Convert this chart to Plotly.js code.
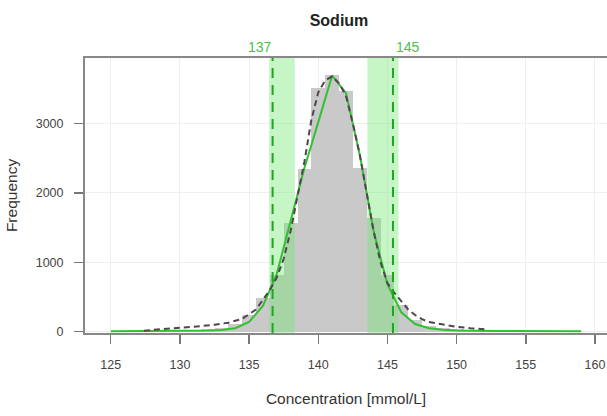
<!DOCTYPE html>
<html>
<head>
<meta charset="utf-8">
<script src="https://cdn.plot.ly/plotly-3.0.1.min.js"></script>
<style>html,body{margin:0;padding:0;background:#fff;}#chart{width:607px;height:416px;}</style>
</head>
<body>
<div id="chart"></div>
<script>
// Histogram bins (centres, width 1 mmol/L) and counts
const binCenters = [125,126,127,128,129,130,131,132,133,134,135,136,137,138,139,140,141,142,143,144,145,146,147,148,149,150,151,152,153,154,155,156,157,158,159];
const binCounts  = [2,3,5,8,12,18,25,35,55,110,240,480,810,1565,2350,3510,3700,3470,2360,1640,820,390,170,85,50,32,20,12,8,5,3,2,2,1,1];

// Fitted model curve (green, solid)
const fitX = [125,126,127,128,129,130,131,132,133,134,135,136,137,138,139,140,141,142,143,144,145,146,147,148,149,150,151,152,153,154,155,156,157,158,159];
const fitY = [8,8,8,8,9,10,12,16,25,50,140,370,830,1580,2360,3020,3690,3440,2550,1450,680,280,110,50,28,18,13,11,10,9,8,8,8,8,8];

// Density curve (dark, dashed)
const densX = [127.4,128.5,129.5,130.5,131.5,132.5,133.5,134.5,135.5,136,136.5,137,137.5,138,138.5,139,139.5,140,140.5,141,141.5,142,142.5,143,143.5,144,144.5,145,145.5,146,146.5,147,147.5,148,149,150,151,152,152.3];
const densY = [15,30,50,65,80,100,130,185,320,460,600,780,1050,1450,1950,2450,3050,3450,3620,3680,3580,3400,3000,2550,2000,1450,1000,700,560,440,320,240,180,140,100,70,50,35,30];

// Reference limits with their uncertainty bands
const limitValues = [136.7, 145.4];
const limitLabels = ['137', '145'];
const bandLow  = [136.45, 143.55];
const bandHigh = [138.3, 145.8];

const yRange = [-19, 3944];
const xRange = [123.14, 160.87];

const traces = [];
traces.push({
  type: 'bar', x: binCenters, y: binCounts, width: 1,
  marker: {color: '#c9c9c9', line: {width: 0}},
  hoverinfo: 'skip', showlegend: false
});
for (let i = 0; i < bandLow.length; i++) {
  traces.push({
    type: 'scatter', mode: 'lines',
    x: [bandLow[i], bandHigh[i], bandHigh[i], bandLow[i], bandLow[i]],
    y: [yRange[0], yRange[0], yRange[1], yRange[1], yRange[0]],
    fill: 'toself', fillcolor: 'rgba(112,230,112,0.4)',
    line: {width: 0}, hoverinfo: 'skip', showlegend: false
  });
}
traces.push({
  type: 'scatter', mode: 'lines', x: fitX, y: fitY,
  line: {color: '#33c033', width: 2}, showlegend: false
});
traces.push({
  type: 'scatter', mode: 'lines', x: densX, y: densY,
  line: {color: '#544452', width: 2, dash: '6px,4px'}, showlegend: false
});
for (let i = 0; i < limitValues.length; i++) {
  traces.push({
    type: 'scatter', mode: 'lines',
    x: [limitValues[i], limitValues[i]], y: yRange,
    line: {color: '#1fa51f', width: 2, dash: '10px,7px'}, showlegend: false
  });
}

const annotations = limitValues.map((v, i) => ({
  x: v, xref: 'x', y: 1, yref: 'paper', yanchor: 'middle', yshift: 11,
  xanchor: i === 0 ? 'right' : 'left', xshift: 1,
  text: limitLabels[i], showarrow: false,
  font: {family: 'Liberation Sans, Arial, sans-serif', size: 14, color: '#4cbf4c'}
}));

const layout = {
  width: 607, height: 416,
  margin: {l: 85, r: 0, t: 58, b: 83, pad: 0},
  paper_bgcolor: '#ffffff', plot_bgcolor: '#ffffff',
  font: {family: 'Liberation Sans, Arial, sans-serif', color: '#444'},
  bargap: 0,
  title: {
    text: 'Sodium', xref: 'container', x: 0.5585, xanchor: 'center',
    yref: 'container', y: 0.951, yanchor: 'middle',
    font: {size: 16, weight: 'bold', color: '#222', family: 'Liberation Sans, Arial, sans-serif'}
  },
  xaxis: {
    range: xRange, tick0: 125, dtick: 5,
    ticks: 'outside', ticklen: 9, tickwidth: 1.5, tickcolor: '#777',
    showline: true, linecolor: '#888', linewidth: 2, mirror: true,
    showgrid: true, gridcolor: '#efefef', gridwidth: 1, zeroline: false,
    tickfont: {size: 12.5, color: '#444'}, ticklabelstandoff: 10,
    title: {text: 'Concentration [mmol/L]', font: {size: 15.5, color: '#333'}, standoff: 22}
  },
  yaxis: {
    range: yRange, tick0: 0, dtick: 1000,
    ticks: 'outside', ticklen: 9, tickwidth: 1.5, tickcolor: '#777',
    showline: true, linecolor: '#888', linewidth: 2, mirror: false,
    showgrid: true, gridcolor: '#efefef', gridwidth: 1, zeroline: false,
    tickfont: {size: 12.5, color: '#444'}, ticklabelstandoff: 8,
    title: {text: 'Frequency', font: {size: 15.5, color: '#333'}, standoff: 14}
  },
  annotations: annotations,
  showlegend: false
};

Plotly.newPlot('chart', traces, layout, {staticPlot: true, displayModeBar: false});
</script>
</body>
</html>
